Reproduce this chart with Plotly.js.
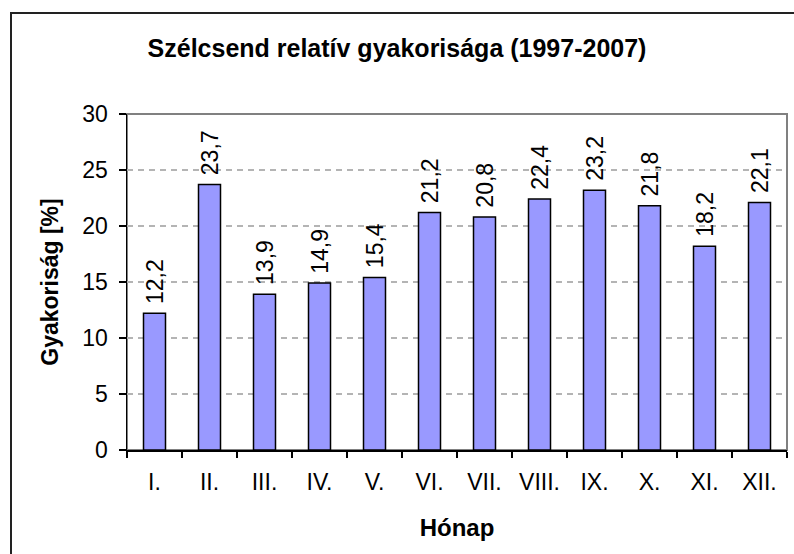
<!DOCTYPE html>
<html>
<head>
<meta charset="utf-8">
<script src="https://cdn.plot.ly/plotly-3.0.1.min.js"></script>
<style>
  html, body { margin: 0; padding: 0; background: #fff; overflow: hidden; }
  #chart { width: 794px; height: 554px; position: absolute; left: 0; top: 0; }
  #frame { position: absolute; left: 10px; top: 12px; width: 800px; height: 560px;
           border: 2px solid #222; pointer-events: none; box-sizing: border-box; }
</style>
</head>
<body>
<div id="chart"></div>
<div id="frame"></div>
<script>
const months = ["I.", "II.", "III.", "IV.", "V.", "VI.", "VII.", "VIII.", "IX.", "X.", "XI.", "XII."];
const frequency = [12.2, 23.7, 13.9, 14.9, 15.4, 21.2, 20.8, 22.4, 23.2, 21.8, 18.2, 22.1];
const chartTitle = "Szélcsend relatív gyakorisága (1997-2007)";
const xTitle = "Hónap";
const yTitle = "Gyakoriság [%]";

const font = "Liberation Sans, Arial, sans-serif";

const trace = {
  type: "bar",
  x: months,
  y: frequency,
  marker: { color: "#9999ff", line: { color: "#000000", width: 1.5 } },
  texttemplate: "\u00a0%{y:.1f}",
  textposition: "outside",
  textangle: -90,
  constraintext: "none",
  textfont: { family: font, size: 23, color: "#000" },
  cliponaxis: false,
  hoverinfo: "skip"
};

const layout = {
  width: 794,
  height: 554,
  margin: { l: 127, r: 7, t: 114, b: 104 },
  paper_bgcolor: "#ffffff",
  plot_bgcolor: "#ffffff",
  separators: ",.",
  showlegend: false,
  bargap: 0.6,
  font: { family: font, color: "#000" },
  title: {
    text: chartTitle,
    font: { family: font, size: 25, weight: "bold", color: "#000" },
    x: 0.5, xanchor: "center", xref: "container",
    y: 1 - 48 / 554, yanchor: "middle", yref: "container"
  },
  xaxis: {
    type: "category",
    tickson: "boundaries",
    ticks: "outside",
    ticklen: 6,
    tickcolor: "#000",
    tickwidth: 1.5,
    showline: true,
    linecolor: "#000",
    linewidth: 1.5,
    showgrid: false,
    tickfont: { family: font, size: 23, color: "#000" },
    ticklabelstandoff: 11,
    title: { text: xTitle, font: { family: font, size: 24, weight: "bold", color: "#000" }, standoff: 25 },
    fixedrange: true
  },
  yaxis: {
    range: [0, 30],
    dtick: 5,
    tick0: 0,
    ticks: "outside",
    ticklen: 7,
    tickcolor: "#000",
    tickwidth: 1.5,
    showline: true,
    linecolor: "#000",
    linewidth: 1.5,
    showgrid: true,
    gridcolor: "#b4b4b4",
    griddash: "6px,5px",
    gridwidth: 1.2,
    zeroline: false,
    tickfont: { family: font, size: 23, color: "#000" },
    ticklabelstandoff: 6,
    title: { text: yTitle, font: { family: font, size: 23, weight: "bold", color: "#000" }, standoff: 17 },
    fixedrange: true
  },
  shapes: [{
    type: "rect", xref: "paper", yref: "paper", x0: 0, x1: 1, y0: 0, y1: 1,
    line: { color: "#808080", width: 2 }, layer: "below"
  }]
};

Plotly.newPlot("chart", [trace], layout, { staticPlot: true, displayModeBar: false });
</script>
</body>
</html>
